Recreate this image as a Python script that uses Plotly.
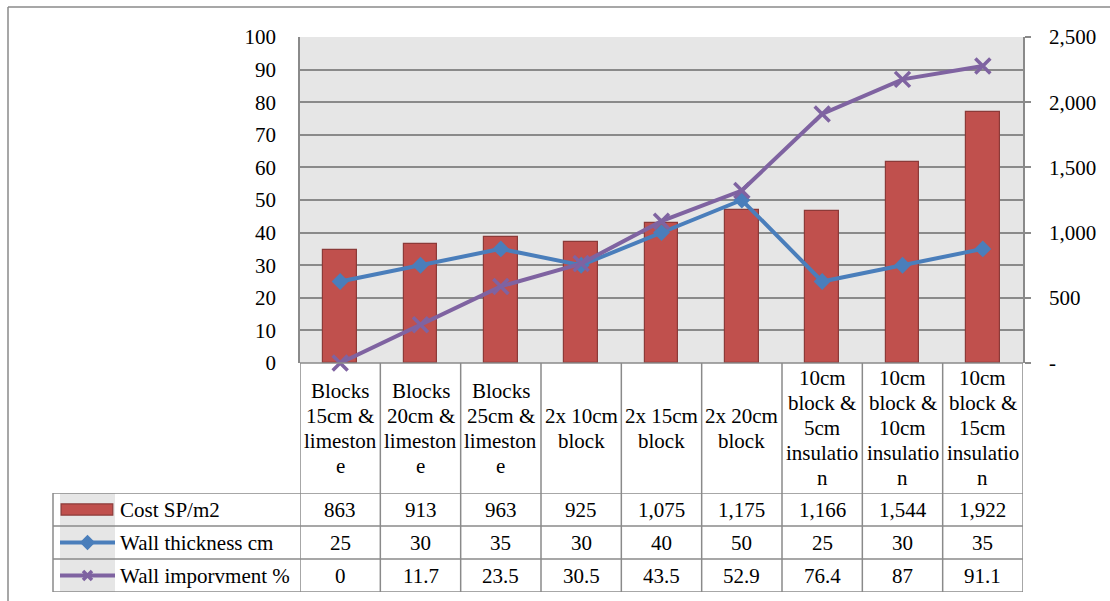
import plotly.graph_objects as go

# ---- data ----
categories = [
    ["Blocks", "15cm &", "limeston", "e"],
    ["Blocks", "20cm &", "limeston", "e"],
    ["Blocks", "25cm &", "limeston", "e"],
    ["2x 10cm", "block"],
    ["2x 15cm", "block"],
    ["2x 20cm", "block"],
    ["10cm", "block &", "5cm", "insulatio", "n"],
    ["10cm", "block &", "10cm", "insulatio", "n"],
    ["10cm", "block &", "15cm", "insulatio", "n"],
]
cost = [863, 913, 963, 925, 1075, 1175, 1166, 1544, 1922]
thickness = [25, 30, 35, 30, 40, 50, 25, 30, 35]
improvement = [0, 11.7, 23.5, 30.5, 43.5, 52.9, 76.4, 87, 91.1]
series_names = ["Cost SP/m2", "Wall thickness cm", "Wall imporvment %"]

left_ticks = [0, 10, 20, 30, 40, 50, 60, 70, 80, 90, 100]
right_ticks = [0, 500, 1000, 1500, 2000, 2500]
right_tick_text = ["-", "500", "1,000", "1,500", "2,000", "2,500"]

# ---- styling ----
W, H = 1110, 601
FONT = "Liberation Serif"
FS = 21
GRID = "#8a8a8a"
RED, RED_EDGE = "#c0504d", "#8c3a38"
BLUE = "#4a7ebb"
PURPLE = "#7f63a1"


def px(x):
    return x / W


def py(y):
    return 1 - y / H


idx = list(range(len(cost)))

fig = go.Figure()

fig.add_trace(go.Bar(
    x=idx, y=cost, name=series_names[0], xaxis="x", yaxis="y",
    width=0.42, marker=dict(color=RED, line=dict(color=RED_EDGE, width=1.2)),
    showlegend=False,
))
fig.add_trace(go.Scatter(
    x=idx, y=thickness, name=series_names[1], xaxis="x", yaxis="y2",
    mode="lines+markers", cliponaxis=False,
    line=dict(color=BLUE, width=4),
    marker=dict(symbol="diamond", size=13, color=BLUE),
    showlegend=False,
))
fig.add_trace(go.Scatter(
    x=idx, y=improvement, name=series_names[2], xaxis="x", yaxis="y2",
    mode="lines+markers", cliponaxis=False,
    line=dict(color=PURPLE, width=4),
    marker=dict(symbol="x-thin", size=15, color=PURPLE,
                line=dict(color=PURPLE, width=3.5)),
    showlegend=False,
))

# legend keys inside the data table (row 0 = bar, rows 1-2 = lines)
key_styles = [
    None,
    dict(color=BLUE, symbol="diamond", size=8),
    dict(color=PURPLE, symbol="x-thin", size=9),
]
for r, st in enumerate(key_styles):
    if st is None:
        continue
    fig.add_trace(go.Scatter(
        x=[0, 1], y=[r + 0.5, r + 0.5], xaxis="x2", yaxis="y3",
        mode="lines", line=dict(color=st["color"], width=4),
        showlegend=False, hoverinfo="skip",
    ))
    fig.add_trace(go.Scatter(
        x=[0.5], y=[r + 0.5], xaxis="x2", yaxis="y3", mode="markers",
        marker=dict(symbol=st["symbol"], size=st["size"], color=st["color"],
                    line=dict(color=st["color"], width=3.5)),
        showlegend=False, hoverinfo="skip",
    ))

shapes = []
line_style = dict(color=GRID, width=1.5)

# bar key
shapes.append(dict(type="rect", xref="x2", yref="y3", x0=0.02, x1=0.96,
                   y0=0.33, y1=0.67, fillcolor=RED,
                   line=dict(color=RED_EDGE, width=1.2)))

# table grid: column boundaries
for i in range(len(cost) + 1):
    shapes.append(dict(type="line", xref="x", yref="paper",
                       x0=i - 0.5, x1=i - 0.5, y0=py(363), y1=py(592),
                       line=line_style))
shapes.append(dict(type="line", xref="x", yref="paper",
                   x0=-0.5, x1=len(cost) - 0.5, y0=py(363), y1=py(363),
                   line=line_style))
# table grid: series rows
for r in range(len(series_names) + 1):
    shapes.append(dict(type="line", xref="paper", yref="y3",
                       x0=px(53), x1=px(1023), y0=r, y1=r, line=line_style))
shapes.append(dict(type="line", xref="paper", yref="y3",
                   x0=px(53), x1=px(53), y0=0, y1=len(series_names),
                   line=line_style))

# chart-area border
shapes.append(dict(type="line", xref="paper", yref="paper",
                   x0=px(8), x1=px(8), y0=py(7), y1=0, line=line_style))
shapes.append(dict(type="line", xref="paper", yref="paper",
                   x0=px(8), x1=1, y0=py(7), y1=py(7), line=line_style))

annotations = []
txt_font = dict(family=FONT, size=FS, color="black")

# category header cells, one annotation per wrapped line
for i, lines in enumerate(categories):
    n = len(lines)
    for k, t in enumerate(lines):
        yc = 428 + (k - (n - 1) / 2) * 25
        annotations.append(dict(
            x=i, y=py(yc), xref="x", yref="paper", text=t, showarrow=False,
            xanchor="center", yanchor="middle", font=txt_font,
        ))

# value rows
rows = [
    [f"{v:,}" for v in cost],
    [f"{v:g}" for v in thickness],
    [f"{v:g}" for v in improvement],
]
for r, vals in enumerate(rows):
    for i, t in enumerate(vals):
        annotations.append(dict(
            x=i, y=r + 0.5, xref="x", yref="y3", text=t, showarrow=False,
            xanchor="center", yanchor="middle", font=txt_font,
        ))
    annotations.append(dict(
        x=px(118), y=r + 0.5, xref="paper", yref="y3", text=series_names[r],
        showarrow=False, xanchor="left", yanchor="middle", font=txt_font,
    ))

fig.update_layout(
    width=W, height=H,
    margin=dict(l=0, r=0, t=0, b=0, autoexpand=False),
    paper_bgcolor="white",
    plot_bgcolor="#e6e6e6",
    font=txt_font,
    bargap=0,
    xaxis=dict(domain=[px(300), px(1023)], range=[-0.5, len(cost) - 0.5],
               showgrid=False, zeroline=False, showticklabels=False,
               showline=False, ticks="", anchor="y", fixedrange=True),
    yaxis=dict(domain=[py(363), py(37)], range=[0, 2500], side="right",
               anchor="x", tickvals=right_ticks, ticktext=right_tick_text,
               ticks="outside", ticklen=6, tickcolor=GRID, tickwidth=1.5,
               showline=True, linecolor=GRID, linewidth=1.5,
               showgrid=False, zeroline=False, ticklabelstandoff=14,
               tickfont=txt_font),
    yaxis2=dict(overlaying="y", side="left", anchor="x", range=[0, 100],
                tickvals=left_ticks, showgrid=True, gridcolor=GRID,
                gridwidth=1.5, showline=True, linecolor=GRID, linewidth=1.5,
                zeroline=False, ticks="", ticklabelstandoff=18,
                tickfont=txt_font),
    xaxis2=dict(domain=[px(60), px(115)], range=[0, 1], anchor="y3",
                visible=False, fixedrange=True),
    yaxis3=dict(domain=[py(592), py(493)], range=[len(series_names), 0],
                anchor="x2", visible=False, fixedrange=True),
    shapes=shapes,
    annotations=annotations,
)

fig.write_html("out.html")
